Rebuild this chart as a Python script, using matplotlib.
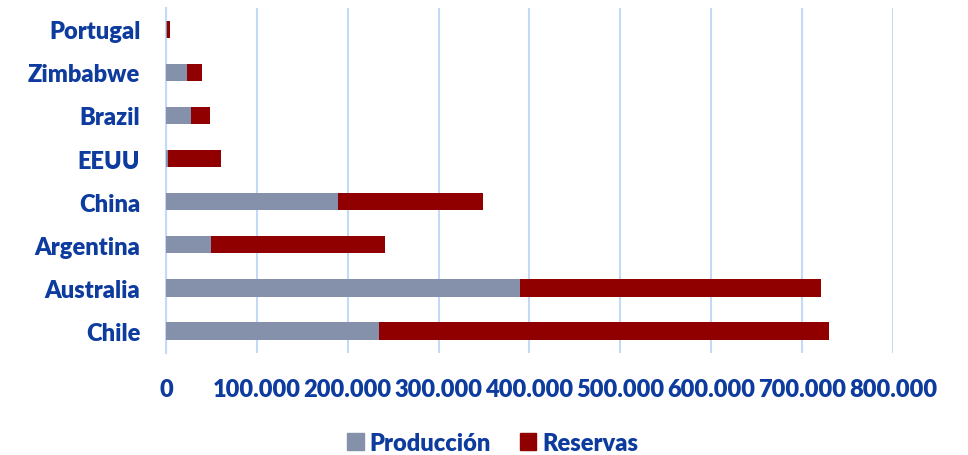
import matplotlib
matplotlib.use("Agg")
import matplotlib.pyplot as plt
from matplotlib.ticker import FuncFormatter, MultipleLocator
from matplotlib.patches import Patch

plt.rcParams['font.family'] = ['Lato', 'DejaVu Sans']

paises = ["Chile", "Australia", "Argentina", "China", "EEUU", "Brazil", "Zimbabwe", "Portugal"]
produccion = [234000, 390000, 49500, 189500, 1900, 27500, 22700, 800]
reservas = [496000, 330500, 191000, 159000, 59000, 20500, 16500, 3600]

c_prod = "#8591ab"
c_res = "#900000"
c_txt = "#0d3b9e"
c_grid = "#c4d8f7"

fig = plt.figure(figsize=(9.68, 4.56), dpi=100)
ax = fig.add_axes([0.1715, 0.2246, 0.751, 0.7564])

y = list(range(len(paises)))
ax.barh(y, produccion, height=0.4, color=c_prod, zorder=3)
ax.barh(y, reservas, left=produccion, height=0.4, color=c_res, zorder=3)

ax.set_xlim(0, 800000)
ax.set_ylim(-0.5, len(paises) - 0.5)
ax.xaxis.set_major_locator(MultipleLocator(100000))
ax.xaxis.set_major_formatter(FuncFormatter(lambda v, p: "0" if v == 0 else f"{int(v):,}".replace(",", ".")))
ax.grid(axis="x", color=c_grid, linewidth=1.5, zorder=0)
ax.set_axisbelow(True)

for s in ["top", "right", "bottom"]:
    ax.spines[s].set_visible(False)
ax.spines["left"].set_color(c_grid)
ax.spines["left"].set_linewidth(1.5)

ax.set_yticks(y)
ax.set_yticklabels(paises)
ax.tick_params(axis="both", length=0, labelcolor=c_txt, labelsize=17)
ax.tick_params(axis="y", pad=18.5)
ax.tick_params(axis="x", pad=18)
for lbl in ax.get_xticklabels() + ax.get_yticklabels():
    lbl.set_fontweight("heavy")

handles = [Patch(color=c_prod, label="Producción"), Patch(color=c_res, label="Reservas")]
leg = fig.legend(handles=handles, loc="center", bbox_to_anchor=(0.509, 0.027), ncol=2,
                 frameon=False, handlelength=0.7, handleheight=0.7, columnspacing=1.2,
                 handletextpad=0.25, prop={"weight": "heavy", "size": 17})
for t in leg.get_texts():
    t.set_color(c_txt)

fig.savefig("out.png", dpi=100)
